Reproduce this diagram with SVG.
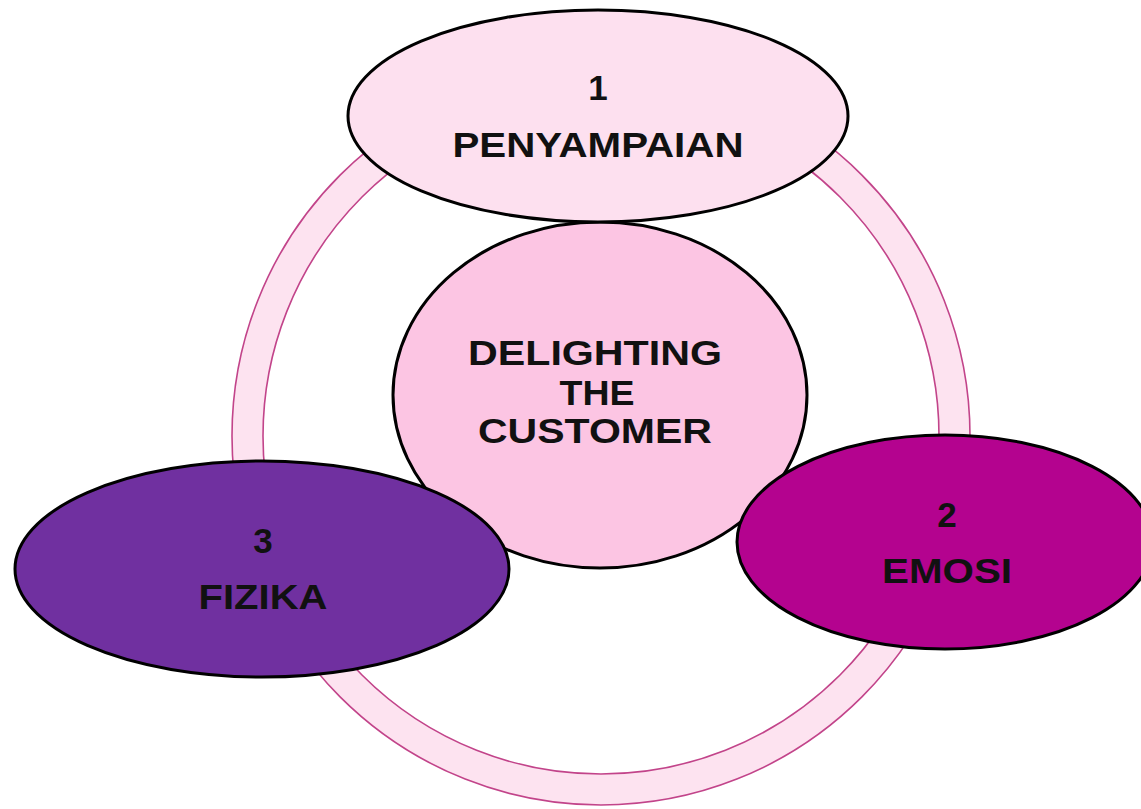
<svg xmlns="http://www.w3.org/2000/svg" width="1141" height="809" viewBox="0 0 1141 809">
<style>
.node{stroke:#000;stroke-width:3}
.t{font-family:"Liberation Sans",Arial,sans-serif;font-weight:bold;font-size:35px;fill:#111;text-anchor:middle}
.ring{stroke:#c2448a;stroke-width:1.6}
</style>
<rect width="1141" height="809" fill="#fff"/>
<g id="connectors">
<circle class="ring" cx="601" cy="436" r="369" fill="#fde3f0"/>
<circle class="ring" cx="601" cy="436" r="338" fill="#fff"/>
</g>
<g id="center">
<ellipse class="node" cx="600" cy="395" rx="207" ry="173" fill="#fcc5e3"/>
<text class="t" x="595" y="365" textLength="254" lengthAdjust="spacingAndGlyphs">DELIGHTING</text>
<text class="t" x="597" y="405" textLength="75" lengthAdjust="spacingAndGlyphs">THE</text>
<text class="t" x="595" y="443" textLength="234" lengthAdjust="spacingAndGlyphs">CUSTOMER</text>
</g>
<g id="node1">
<ellipse class="node" cx="598" cy="116" rx="250" ry="106" fill="#fde0ef"/>
<text class="t" x="598" y="100">1</text>
<text class="t" x="598" y="157" textLength="291" lengthAdjust="spacingAndGlyphs">PENYAMPAIAN</text>
</g>
<g id="node3">
<ellipse class="node" cx="262" cy="569" rx="247" ry="108" fill="#7030a0"/>
<text class="t" x="263" y="553">3</text>
<text class="t" x="263" y="609" textLength="129" lengthAdjust="spacingAndGlyphs">FIZIKA</text>
</g>
<g id="node2">
<ellipse class="node" cx="945" cy="542" rx="208" ry="107" fill="#b4038f"/>
<text class="t" x="947" y="527">2</text>
<text class="t" x="947" y="583" textLength="130" lengthAdjust="spacingAndGlyphs">EMOSI</text>
</g>
</svg>
